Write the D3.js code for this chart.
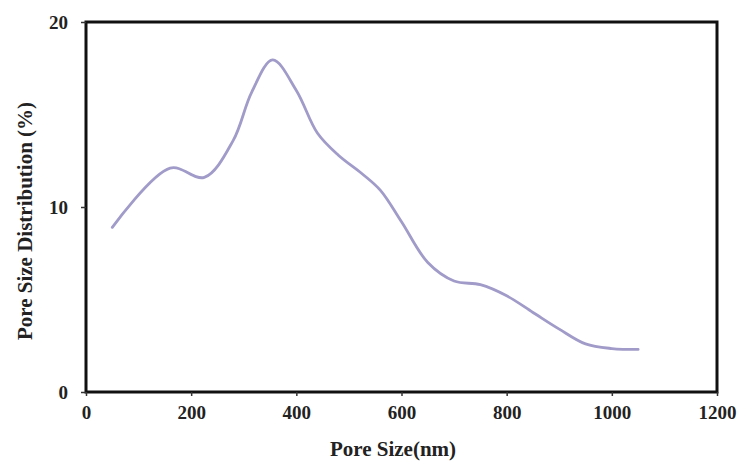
<!DOCTYPE html>
<html>
<head>
<meta charset="utf-8">
<script src="https://cdn.jsdelivr.net/npm/d3@7"></script>
<style>
  body { margin: 0; background: #fff; }
  text { font-family: "Liberation Serif", "Times New Roman", serif; font-weight: bold; fill: #222; }
</style>
</head>
<body>
<div id="chart"></div>
<script>
var poreSize = [50, 160, 225, 280, 315, 355, 400, 440, 480, 525, 560, 600, 650, 700, 750, 800, 850, 900, 950, 1000, 1050];
var distribution = [8.9, 12.1, 11.6, 13.6, 16.2, 17.95, 16.3, 14.0, 12.8, 11.8, 10.9, 9.2, 7.0, 6.0, 5.8, 5.2, 4.3, 3.4, 2.6, 2.35, 2.3];
var xTicks = [0, 200, 400, 600, 800, 1000, 1200];
var yTicks = [0, 10, 20];

var width = 739, height = 461;
var margin = {left: 86, right: 22, top: 22, bottom: 69};

var svg = d3.select('#chart').append('svg')
  .attr('width', width)
  .attr('height', height);

var x = d3.scaleLinear().domain([0, 1200]).range([margin.left, width - margin.right]);
var y = d3.scaleLinear().domain([0, 20]).range([height - margin.bottom, margin.top]);

var data = poreSize.map(function(d, i) { return {x: d, y: distribution[i]}; });

// frame
svg.append('rect')
  .attr('x', x(0)).attr('y', y(20))
  .attr('width', x(1200) - x(0)).attr('height', y(0) - y(20))
  .attr('fill', 'none').attr('stroke', '#111').attr('stroke-width', 3);

var xAxis = svg.append('g')
  .attr('transform', 'translate(0,' + y(0) + ')')
  .call(d3.axisBottom(x).tickValues(xTicks).tickFormat(d3.format('d')).tickSize(4).tickPadding(10));
xAxis.select('.domain').remove();
xAxis.selectAll('text').style('font-size', '19px');
xAxis.selectAll('line').attr('stroke', '#333').attr('stroke-width', 1.5);

var yAxis = svg.append('g')
  .attr('transform', 'translate(' + x(0) + ',0)')
  .call(d3.axisLeft(y).tickValues(yTicks).tickSize(5).tickPadding(13));
yAxis.select('.domain').remove();
yAxis.selectAll('text').style('font-size', '19px');
yAxis.selectAll('line').attr('stroke', '#333').attr('stroke-width', 1.5);

var line = d3.line()
  .x(function(d) { return x(d.x); })
  .y(function(d) { return y(d.y); })
  .curve(d3.curveCatmullRom.alpha(0.5));

svg.append('path')
  .datum(data)
  .attr('d', line)
  .attr('fill', 'none')
  .attr('stroke', '#a09bc8')
  .attr('stroke-width', 2.8)
  .attr('stroke-linecap', 'round');

svg.append('text')
  .attr('x', 393)
  .attr('y', 456)
  .attr('text-anchor', 'middle')
  .style('font-size', '21px')
  .text('Pore Size(nm)');

svg.append('text')
  .attr('transform', 'translate(32,221) rotate(-90)')
  .attr('text-anchor', 'middle')
  .style('font-size', '21px')
  .text('Pore Size Distribution (%)');
</script>
</body>
</html>
